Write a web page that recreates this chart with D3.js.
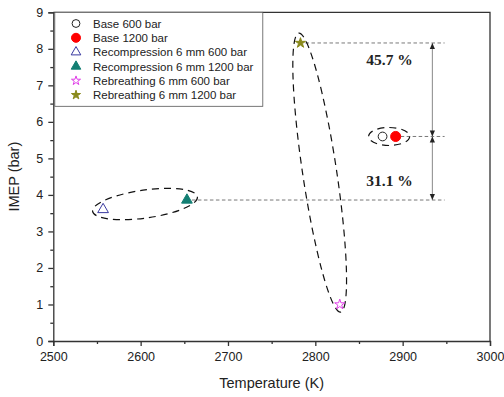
<!DOCTYPE html>
<html>
<head>
<meta charset="utf-8">
<script src="https://cdn.jsdelivr.net/npm/d3@7"></script>
<style>
  html, body { margin: 0; padding: 0; background: #fff; }
  svg { display: block; }
  text { font-family: Arial, "Liberation Sans", sans-serif; fill: #222; }
</style>
</head>
<body>
<svg id="chart" width="504" height="397"></svg>
<script>
// Series: [temperature K, IMEP bar]
const series = ["Base 600 bar", "Base 1200 bar", "Recompression 6 mm 600 bar",
  "Recompression 6 mm 1200 bar", "Rebreathing 6 mm 600 bar", "Rebreathing 6 mm 1200 bar"];
const temperature = [2877, 2892, 2557, 2653, 2828, 2783];
const imep = [5.6, 5.6, 3.6, 3.86, 1.0, 8.16];

const xTicks = [2500, 2600, 2700, 2800, 2900, 3000];
const yTicks = [0, 1, 2, 3, 4, 5, 6, 7, 8, 9];

// Grouping ellipses: major-axis endpoints in data units
const groupEllipseFrom = [[2545, 3.55], [2861, 5.6], [2781, 8.43]];
const groupEllipseTo = [[2665, 3.95], [2908, 5.6], [2829, 0.79]];

// Relative change annotations (percent)
const changeLabels = ["45.7 %", "31.1 %"];
const arrowTemperature = 2934;
const guideEndTemperature = 2948;
const labelTemperature = 2885;

const svg = d3.select("#chart");
const margin = { left: 53.3, right: 14, top: 12.3, bottom: 56 };
const W = 504, H = 397;

const x = d3.scaleLinear().domain([2500, 3000]).range([margin.left, W - margin.right]);
const y = d3.scaleLinear().domain([0, 9]).range([H - margin.bottom, margin.top]);

const axisColor = "#333";

// Frame (top and right edges)
svg.append("path")
  .attr("d", `M${x(2500)},${y(9)}H${x(3000)}V${y(0)}`)
  .attr("fill", "none").attr("stroke", axisColor).attr("stroke-width", 1.3);

// Bottom axis with minor ticks
svg.append("g").attr("transform", `translate(0,${y(0)})`)
  .call(d3.axisBottom(x).tickValues(xTicks).tickFormat(d3.format("d")).tickSize(5).tickPadding(6));
svg.append("g").attr("transform", `translate(0,${y(0)})`)
  .call(d3.axisBottom(x).tickValues(d3.range(2550, 3000, 100)).tickFormat("").tickSize(3))
  .select(".domain").remove();

// Left axis with minor ticks
svg.append("g").attr("transform", `translate(${x(2500)},0)`)
  .call(d3.axisLeft(y).tickValues(yTicks).tickFormat(d3.format("d")).tickSize(5).tickPadding(5));
svg.append("g").attr("transform", `translate(${x(2500)},0)`)
  .call(d3.axisLeft(y).tickValues(d3.range(0.5, 9, 1)).tickFormat("").tickSize(3))
  .select(".domain").remove();

svg.selectAll(".domain, .tick line").attr("stroke", axisColor).attr("stroke-width", 1.3);
svg.selectAll(".tick text").attr("font-size", 12.5).attr("fill", "#222")
  .style("font-family", "Arial, 'Liberation Sans', sans-serif");

// Axis titles
svg.append("text").attr("x", (x(2500) + x(3000)) / 2).attr("y", 388)
  .attr("text-anchor", "middle").attr("font-size", 14.5).text("Temperature (K)");
svg.append("text").attr("transform", `translate(19,${(y(0) + y(9)) / 2}) rotate(-90)`)
  .attr("text-anchor", "middle").attr("font-size", 14.5).text("IMEP (bar)");

// Dashed guides from the 1200 bar points
const guideIdx = [5, 1, 3];
svg.append("g").selectAll("line").data(guideIdx).join("line")
  .attr("x1", i => x(temperature[i]) + 5)
  .attr("x2", x(guideEndTemperature))
  .attr("y1", i => y(imep[i])).attr("y2", i => y(imep[i]))
  .attr("stroke", "#555").attr("stroke-width", 0.8).attr("stroke-dasharray", "3.5,2.5");

// Vertical double arrows
const arrowX = x(arrowTemperature);
svg.append("line").attr("x1", arrowX).attr("x2", arrowX)
  .attr("y1", y(imep[5])).attr("y2", y(imep[3]))
  .attr("stroke", "#888").attr("stroke-width", 1);
function arrowHead(yy, dir) {
  svg.append("path")
    .attr("d", `M${arrowX},${yy}l-2.6,${-dir * 6}h5.2z`)
    .attr("fill", "#222");
}
arrowHead(y(imep[5]), -1);
arrowHead(y(imep[1]), 1);
arrowHead(y(imep[1]), -1);
arrowHead(y(imep[3]), 1);

// Change labels
const labelY = [y(imep[5]) + 22, y(imep[3]) - 14];
svg.append("g").selectAll("text").data(changeLabels).join("text")
  .attr("x", x(labelTemperature)).attr("y", (d, i) => labelY[i])
  .attr("text-anchor", "middle")
  .style("font-family", "'Liberation Serif', 'Times New Roman', serif")
  .attr("font-weight", "bold").attr("font-size", 15.5).text(d => d);

// Grouping ellipses
const halfWidths = [14, 9, 17];
svg.append("g").selectAll("ellipse").data(groupEllipseFrom).join("ellipse")
  .each(function (a, i) {
    const b = groupEllipseTo[i];
    const x1 = x(a[0]), y1 = y(a[1]), x2 = x(b[0]), y2 = y(b[1]);
    const cx = (x1 + x2) / 2, cy = (y1 + y2) / 2;
    const rx = Math.hypot(x2 - x1, y2 - y1) / 2;
    const ang = Math.atan2(y2 - y1, x2 - x1) * 180 / Math.PI;
    d3.select(this).attr("cx", 0).attr("cy", 0).attr("rx", rx).attr("ry", halfWidths[i])
      .attr("transform", `translate(${cx},${cy}) rotate(${ang})`);
  })
  .attr("fill", "none").attr("stroke", "#111").attr("stroke-width", 1.2)
  .attr("stroke-dasharray", "7,5");

// Marker styles per series
const styles = [
  { sym: d3.symbolCircle, size: 60, fill: "none", stroke: "#222" },
  { sym: d3.symbolCircle, size: 80, fill: "#ff0000", stroke: "#ff0000" },
  { sym: d3.symbolTriangle, size: 50, fill: "none", stroke: "#3a3aa0" },
  { sym: d3.symbolTriangle, size: 50, fill: "#137f73", stroke: "#137f73" },
  { sym: d3.symbolStar, size: 32, fill: "none", stroke: "#e040e8" },
  { sym: d3.symbolStar, size: 32, fill: "#8a8a1c", stroke: "#8a8a1c" }
];

svg.append("g").selectAll("path").data(series).join("path")
  .attr("transform", (d, i) => `translate(${x(temperature[i])},${y(imep[i])})`)
  .attr("d", (d, i) => d3.symbol(styles[i].sym, styles[i].size)())
  .attr("fill", (d, i) => styles[i].fill)
  .attr("stroke", (d, i) => styles[i].stroke).attr("stroke-width", 1);

// Legend
const legend = svg.append("g");
legend.append("rect").attr("x", x(2500) + 1.5).attr("y", y(9))
  .attr("width", 208).attr("height", 94)
  .attr("fill", "#fff").attr("stroke", "#555").attr("stroke-width", 0.8);
const rows = legend.selectAll("g").data(series).join("g")
  .attr("transform", (d, i) => `translate(76,${23.5 + i * 14.3})`);
rows.append("path")
  .attr("d", (d, i) => d3.symbol(styles[i].sym, styles[i].size * 0.8)())
  .attr("fill", (d, i) => styles[i].fill)
  .attr("stroke", (d, i) => styles[i].stroke).attr("stroke-width", 1);
rows.append("text").attr("x", 17).attr("y", 4.2).attr("font-size", 11.5).text(d => d);
</script>
</body>
</html>
